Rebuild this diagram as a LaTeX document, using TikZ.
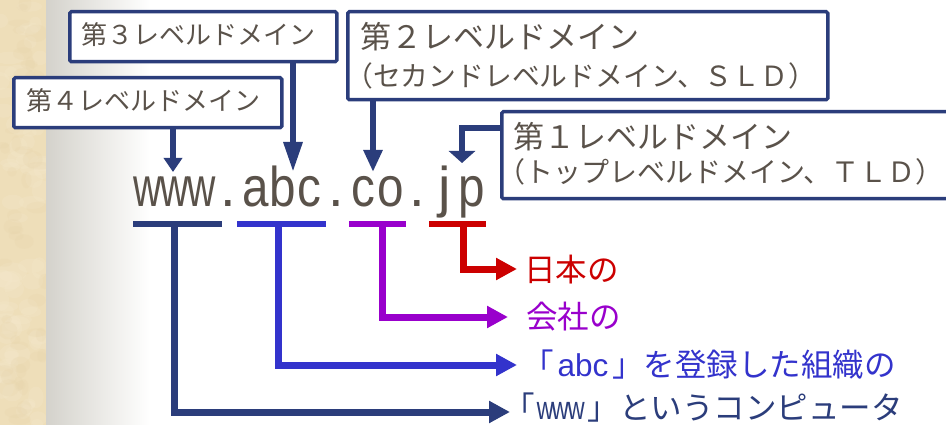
\documentclass[tikz,border=0pt]{standalone}
\usepackage{fontspec}
\usepackage{graphicx}
\usetikzlibrary{arrows.meta}
\newfontfamily\jpf{Noto Sans CJK JP}
\newfontfamily\latf{Liberation Sans}
\definecolor{navy}{RGB}{43,61,123}
\definecolor{dblue}{RGB}{51,51,204}
\definecolor{dpurple}{RGB}{153,0,204}
\definecolor{dred}{RGB}{204,0,0}
\definecolor{txtgray}{RGB}{90,82,74}
\definecolor{beige}{RGB}{238,222,185}
\definecolor{beigelight}{RGB}{245,233,205}
\definecolor{beigedark}{RGB}{229,210,168}
\definecolor{shadegray}{RGB}{212,210,203}
\newcommand\hwch[3]{\makebox[#1]{\scalebox{#2}[1]{#3}}}
\tikzset{
  dbox/.style={draw=navy, line width=3.5pt, fill=white, inner sep=0pt, anchor=north west, rounded corners=1.5pt},
  boxtxt/.style={anchor=west, inner sep=0pt, text=txtgray, font=\jpf\fontsize{26}{30}\selectfont},
  bigtxt/.style={anchor=west, inner sep=0pt, text=txtgray, font=\jpf\fontsize{31}{34}\selectfont},
  darr/.style={draw=navy, line width=6pt, line join=miter},
  ubar/.style={line width=6.5pt},
  lconn/.style={line width=7pt, line join=miter, -{Triangle[length=21pt,width=21pt]}},
  lbl/.style={anchor=west, inner sep=0pt, font=\jpf\fontsize{31.5}{34}\selectfont}
}
\begin{document}
\begin{tikzpicture}[x=1pt,y=-1pt]
\useasboundingbox (0,0) rectangle (946,425);
\clip (0,0) rectangle (946,425);
% background
\fill[white] (0,0) rectangle (946,425);
\fill[beige] (0,0) rectangle (46,425);
\begin{scope}
\clip (0,0) rectangle (46,425);
\pgfmathsetseed{7}
\foreach \i in {1,...,70}{
  \pgfmathsetmacro\rx{rnd*46}\pgfmathsetmacro\ry{rnd*425}
  \pgfmathsetmacro\ra{6+rnd*10}\pgfmathsetmacro\rb{4+rnd*7}
  \fill[beigelight, opacity=0.25] (\rx,\ry) ellipse [x radius=\ra, y radius=\rb];
}
\foreach \i in {1,...,50}{
  \pgfmathsetmacro\rx{rnd*46}\pgfmathsetmacro\ry{rnd*425}
  \pgfmathsetmacro\ra{4+rnd*8}\pgfmathsetmacro\rb{3+rnd*6}
  \fill[beigedark, opacity=0.2] (\rx,\ry) ellipse [x radius=\ra, y radius=\rb];
}
\end{scope}
\shade[left color=shadegray, right color=white] (46,0) rectangle (150,425);

% boxes
\node[dbox, minimum width=268pt, minimum height=50pt] (b4) at (12,76) {};
\node[dbox, minimum width=267pt, minimum height=50pt] (b3) at (68,10) {};
\node[dbox, minimum width=480pt, minimum height=88pt] (b2) at (346,10) {};
\node[dbox, minimum width=480pt, minimum height=87pt] (b1) at (500,110) {};

\node[boxtxt] (t4) at (26,101) {第４レベルドメイン};
\node[boxtxt] (t3) at (81,35) {第３レベルドメイン};
\node[bigtxt] (t2a) at (360,37) {第２レベルドメイン};
\node[boxtxt, font=\jpf\fontsize{27.8}{30}\selectfont] (t2b) at (345,76) {（セカンドレベルドメイン、ＳＬＤ）};
\node[bigtxt] (t1a) at (513,137) {第１レベルドメイン};
\node[boxtxt, font=\jpf\fontsize{28}{30}\selectfont] (t1b) at (497,172) {（トップレベルドメイン、ＴＬＤ）};

% domain text
\node[anchor=base west, inner sep=0pt, text=txtgray, font=\latf\fontsize{56}{56}\selectfont] (dom) at (134,207)
 {\hwch{27pt}{0.7}{w}\hwch{27pt}{0.7}{w}\hwch{27pt}{0.7}{w}\hwch{27pt}{1}{.}%
  \hwch{27pt}{0.85}{a}\hwch{27pt}{0.85}{b}\hwch{27pt}{0.85}{c}\hwch{27pt}{1}{.}%
  \hwch{27pt}{0.85}{c}\hwch{27pt}{0.85}{o}\hwch{27pt}{1}{.}%
  \hwch{27pt}{1}{j}\hwch{27pt}{0.85}{p}};

% arrows from boxes
\coordinate (a4) at (173,172);
\coordinate (a3) at (293,172);
\coordinate (a2) at (373,172);
\coordinate (a1) at (462,163);
\coordinate (k1) at (462,128);
\draw[darr, -{Triangle[length=14pt,width=18pt]}] (b4.south -| a4) -- (a4);
\draw[darr, -{Triangle[length=30pt,width=18pt]}] (b3.south -| a3) -- (a3);
\draw[darr, -{Triangle[length=22pt,width=18pt]}] (b2.south -| a2) -- (a2);
\draw[darr, -{Triangle[length=12pt,width=26pt]}] (b1.west |- k1) -- (k1) -- (a1);

% underline bars
\coordinate (uw1) at (133,224); \coordinate (uw2) at (222,224);
\coordinate (ua1) at (237,224); \coordinate (ua2) at (326,224);
\coordinate (uc1) at (349,224); \coordinate (uc2) at (406,224);
\coordinate (uj1) at (429,224); \coordinate (uj2) at (486,224);
\draw[ubar, navy] (uw1) -- (uw2);
\draw[ubar, dblue] (ua1) -- (ua2);
\draw[ubar, dpurple] (uc1) -- (uc2);
\draw[ubar, dred] (uj1) -- (uj2);

% connectors to labels
\coordinate (sw) at (174.5,224); \coordinate (ew) at (510,412);
\coordinate (sa) at (278.5,224); \coordinate (ea) at (517,365);
\coordinate (sc) at (382.5,224); \coordinate (ec) at (508,317);
\coordinate (sj) at (463,224);   \coordinate (ej) at (517,269);
\draw[lconn, navy] (sw) |- (ew);
\draw[lconn, dblue] (sa) |- (ea);
\draw[lconn, dpurple] (sc) |- (ec);
\draw[lconn, dred] (sj) |- (ej);

\node[lbl, text=dred] (lj) at (524,270) {日本の};
\node[lbl, text=dpurple] (lc) at (526,317) {会社の};
\node[lbl, text=dblue] (la) at (522,365) {「\hspace{4pt}{\latf abc}\hspace{4pt}」を登録した組織の};
\node[lbl, text=navy] (lw) at (503,408) {「\hspace{2.5pt}\hwch{15.9pt}{0.72}{w}\hwch{15.9pt}{0.72}{w}\hwch{15.9pt}{0.72}{w}\hspace{3pt}」というコンピュータ};
\end{tikzpicture}
\end{document}
